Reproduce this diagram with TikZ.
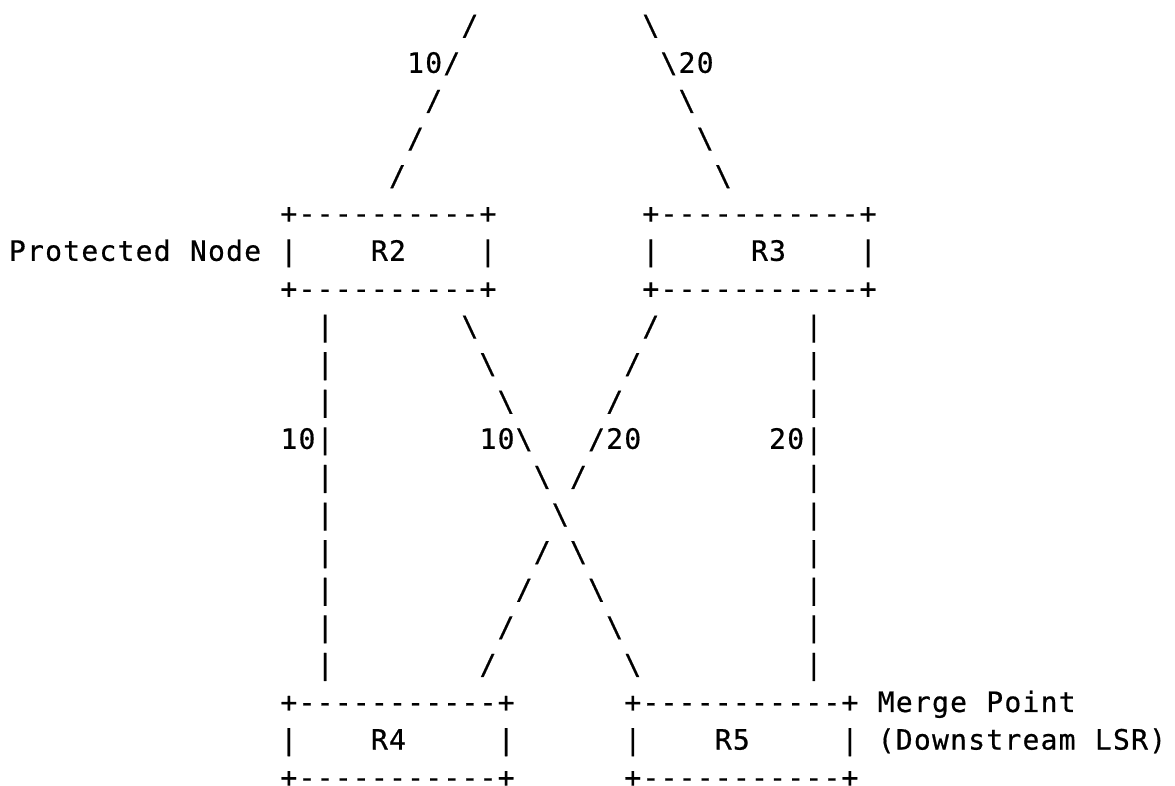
\documentclass[tikz,border=0pt]{standalone}
\usepackage{fontspec}
\newfontfamily\asciifont[FakeBold=0.6]{DejaVu Sans Mono}
\newlength\cellw
\setlength\cellw{9.05pt}
% every character sits in a cell of fixed width
\def\cells#1{\cellsloop#1\relax}
\def\cellsloop#1{\ifx\relax#1\else\hbox to\cellw{\hss#1\hss}\expandafter\cellsloop\fi}
\tikzset{ascii/.style={anchor=base west, inner sep=0pt, xshift=-4.525pt, yshift=-4.1pt,
  font=\asciifont\fontsize{14}{16}\selectfont}}
\begin{document}
\begin{tikzpicture}[x=9.05pt,y=-18.8pt]
\useasboundingbox (-0.94,0.282) rectangle (63.98,21.186);
% links into R2 and R3
\node[ascii] (in2a) at (25,1) {\cells{/}};
\node[ascii] (in2b) at (22,2) {\cells{10/}};
\node[ascii] (in2c) at (23,3) {\cells{/}};
\node[ascii] (in2d) at (22,4) {\cells{/}};
\node[ascii] (in2e) at (21,5) {\cells{/}};
\node[ascii] (in3a) at (35,1) {\cells{\textbackslash}};
\node[ascii] (in3b) at (36,2) {\cells{\textbackslash20}};
\node[ascii] (in3c) at (37,3) {\cells{\textbackslash}};
\node[ascii] (in3d) at (38,4) {\cells{\textbackslash}};
\node[ascii] (in3e) at (39,5) {\cells{\textbackslash}};
% R2 and R3
\node[ascii] (r2top) at (15,6) {\cells{+----------+}};
\node[ascii] (r3top) at (35,6) {\cells{+-----------+}};
\node[ascii] (prot) at (0,7) {\cells{Protected~Node}};
\node[ascii] (r2l) at (15,7) {\cells{|}};
\node[ascii] (r2) at (20,7) {\cells{R2}};
\node[ascii] (r2r) at (26,7) {\cells{|}};
\node[ascii] (r3l) at (35,7) {\cells{|}};
\node[ascii] (r3) at (41,7) {\cells{R3}};
\node[ascii] (r3r) at (47,7) {\cells{|}};
\node[ascii] (r2bot) at (15,8) {\cells{+----------+}};
\node[ascii] (r3bot) at (35,8) {\cells{+-----------+}};
% straight links R2-R4 and R3-R5
\foreach \r in {9,10,11,13,14,15,16,17,18} {
  \node[ascii] (lp\r) at (17,\r) {\cells{|}};
  \node[ascii] (rp\r) at (44,\r) {\cells{|}};
}
\node[ascii] (w24) at (15,12) {\cells{10|}};
\node[ascii] (w35) at (42,12) {\cells{20|}};
% crossed links R2-R5 and R3-R4
\node[ascii] (x1a) at (25,9) {\cells{\textbackslash}};
\node[ascii] (x1b) at (26,10) {\cells{\textbackslash}};
\node[ascii] (x1c) at (27,11) {\cells{\textbackslash}};
\node[ascii] (x1d) at (26,12) {\cells{10\textbackslash}};
\node[ascii] (x1e) at (29,13) {\cells{\textbackslash}};
\node[ascii] (x1f) at (30,14) {\cells{\textbackslash}};
\node[ascii] (x1g) at (31,15) {\cells{\textbackslash}};
\node[ascii] (x1h) at (32,16) {\cells{\textbackslash}};
\node[ascii] (x1i) at (33,17) {\cells{\textbackslash}};
\node[ascii] (x1j) at (34,18) {\cells{\textbackslash}};
\node[ascii] (x2a) at (35,9) {\cells{/}};
\node[ascii] (x2b) at (34,10) {\cells{/}};
\node[ascii] (x2c) at (33,11) {\cells{/}};
\node[ascii] (x2d) at (32,12) {\cells{/20}};
\node[ascii] (x2e) at (31,13) {\cells{/}};
\node[ascii] (x2f) at (29,15) {\cells{/}};
\node[ascii] (x2g) at (28,16) {\cells{/}};
\node[ascii] (x2h) at (27,17) {\cells{/}};
\node[ascii] (x2i) at (26,18) {\cells{/}};
% R4 and R5
\node[ascii] (r4top) at (15,19) {\cells{+-----------+}};
\node[ascii] (r5top) at (34,19) {\cells{+-----------+}};
\node[ascii] (merge) at (48,19) {\cells{Merge~Point}};
\node[ascii] (r4l) at (15,20) {\cells{|}};
\node[ascii] (r4) at (20,20) {\cells{R4}};
\node[ascii] (r4r) at (27,20) {\cells{|}};
\node[ascii] (r5l) at (34,20) {\cells{|}};
\node[ascii] (r5) at (39,20) {\cells{R5}};
\node[ascii] (r5r) at (46,20) {\cells{|}};
\node[ascii] (lsr) at (48,20) {\cells{(Downstream~LSR)}};
\node[ascii] (r4bot) at (15,21) {\cells{+-----------+}};
\node[ascii] (r5bot) at (34,21) {\cells{+-----------+}};
\end{tikzpicture}
\end{document}
